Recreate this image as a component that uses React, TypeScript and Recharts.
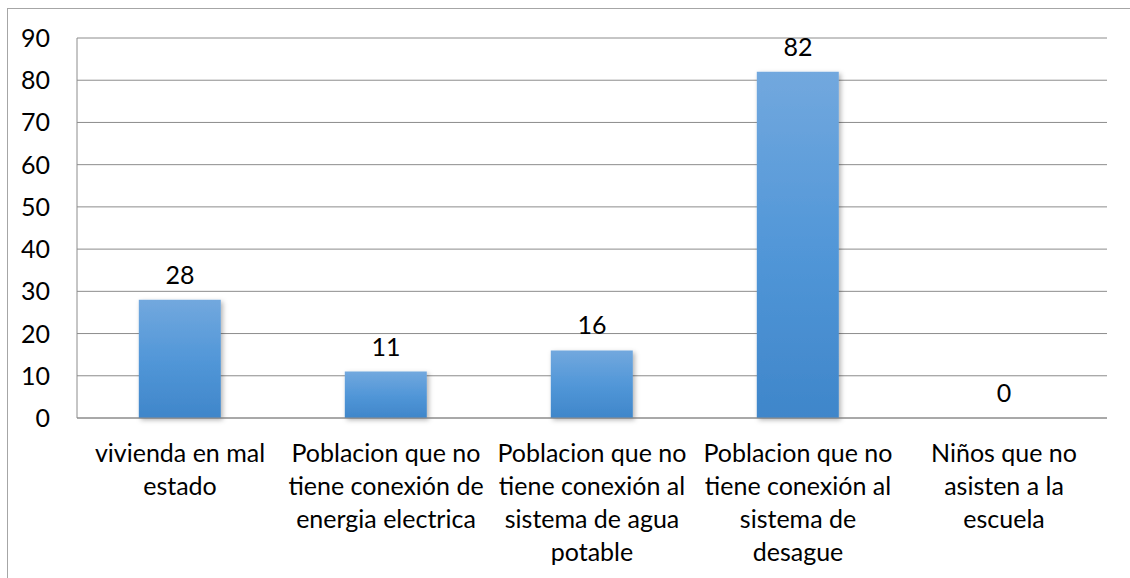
import React from 'react';
import { ComposedChart, Bar, Line, XAxis, YAxis, CartesianGrid } from 'recharts';

const categories: string[][] = [
  ['vivienda en mal', 'estado'],
  ['Poblacion que no', 'tiene conexión de', 'energia electrica'],
  ['Poblacion que no', 'tiene conexión al', 'sistema de agua', 'potable'],
  ['Poblacion que no', 'tiene conexión al', 'sistema de', 'desague'],
  ['Niños que no', 'asisten a la', 'escuela'],
];
const values: number[] = [28, 11, 16, 82, 0];
const yTicks: number[] = [0, 10, 20, 30, 40, 50, 60, 70, 80, 90];

const data = categories.map((c, i) => ({ name: c.join(' '), idx: i, value: values[i] }));

const FONT = 'Lato, "Noto Sans", sans-serif';
const FS = 25;

const XTick = (props: any) => {
  const { x, y, payload } = props;
  const lines = categories[payload.index] || [];
  return (
    <g>
      {lines.map((l, i) => (
        <text key={i} x={x} y={y + 36 + i * 33} textAnchor="middle" fontFamily={FONT} fontSize={FS} fill="#000">
          {l}
        </text>
      ))}
    </g>
  );
};

const YTick = (props: any) => {
  const { x, y, payload } = props;
  return (
    <text x={x} y={y + 9} textAnchor="end" fontFamily={FONT} fontSize={FS} fill="#000">
      {payload.value}
    </text>
  );
};

const PointLabel = (props: any) => {
  const { x, y, value } = props;
  return (
    <text x={x} y={y - 16} textAnchor="middle" fontFamily={FONT} fontSize={FS} fill="#000">
      {value}
    </text>
  );
};

export default function App() {
  return (
    <div style={{ position: 'absolute', left: 0, top: 0, width: 1130, height: 578, background: '#fff' }}>
      <svg width={1130} height={578} style={{ position: 'absolute', left: 0, top: 0 }}>
        <rect x={7.5} y={8.5} width={1200} height={600} fill="none" stroke="#a6a6a6" strokeWidth={1} />
      </svg>
      <div style={{ position: 'absolute', left: 0, top: 0 }}>
        <ComposedChart width={1130} height={578} data={data} margin={{ top: 38, right: 23, left: 0, bottom: 0 }} barCategoryGap="30%">
          <defs>
            <linearGradient id="barGrad" x1="0" y1="0" x2="0" y2="1">
              <stop offset="0%" stopColor="#72a8de" />
              <stop offset="50%" stopColor="#5297d8" />
              <stop offset="100%" stopColor="#3f86ca" />
            </linearGradient>
            <filter id="shadow" x="-20%" y="-20%" width="140%" height="140%">
              <feDropShadow dx="2" dy="2" stdDeviation="2.5" floodColor="#000" floodOpacity="0.3" />
            </filter>
          </defs>
          <CartesianGrid vertical={false} stroke="#8c8c8c" strokeWidth={1} />
          <XAxis dataKey="name" height={160} interval={0} tick={<XTick />} tickLine={false} axisLine={{ stroke: '#8c8c8c' }} />
          <YAxis
            width={77}
            domain={[0, 90]}
            ticks={yTicks}
            tick={<YTick />}
            tickLine={false}
            tickSize={0}
            tickMargin={27}
            axisLine={{ stroke: '#8c8c8c' }}
            interval={0}
          />
          <Bar dataKey="value" fill="url(#barGrad)" isAnimationActive={false} style={{ filter: 'url(#shadow)' }} />
          <Line dataKey="value" stroke="none" dot={false} activeDot={false} label={<PointLabel />} isAnimationActive={false} />
        </ComposedChart>
      </div>
    </div>
  );
}
